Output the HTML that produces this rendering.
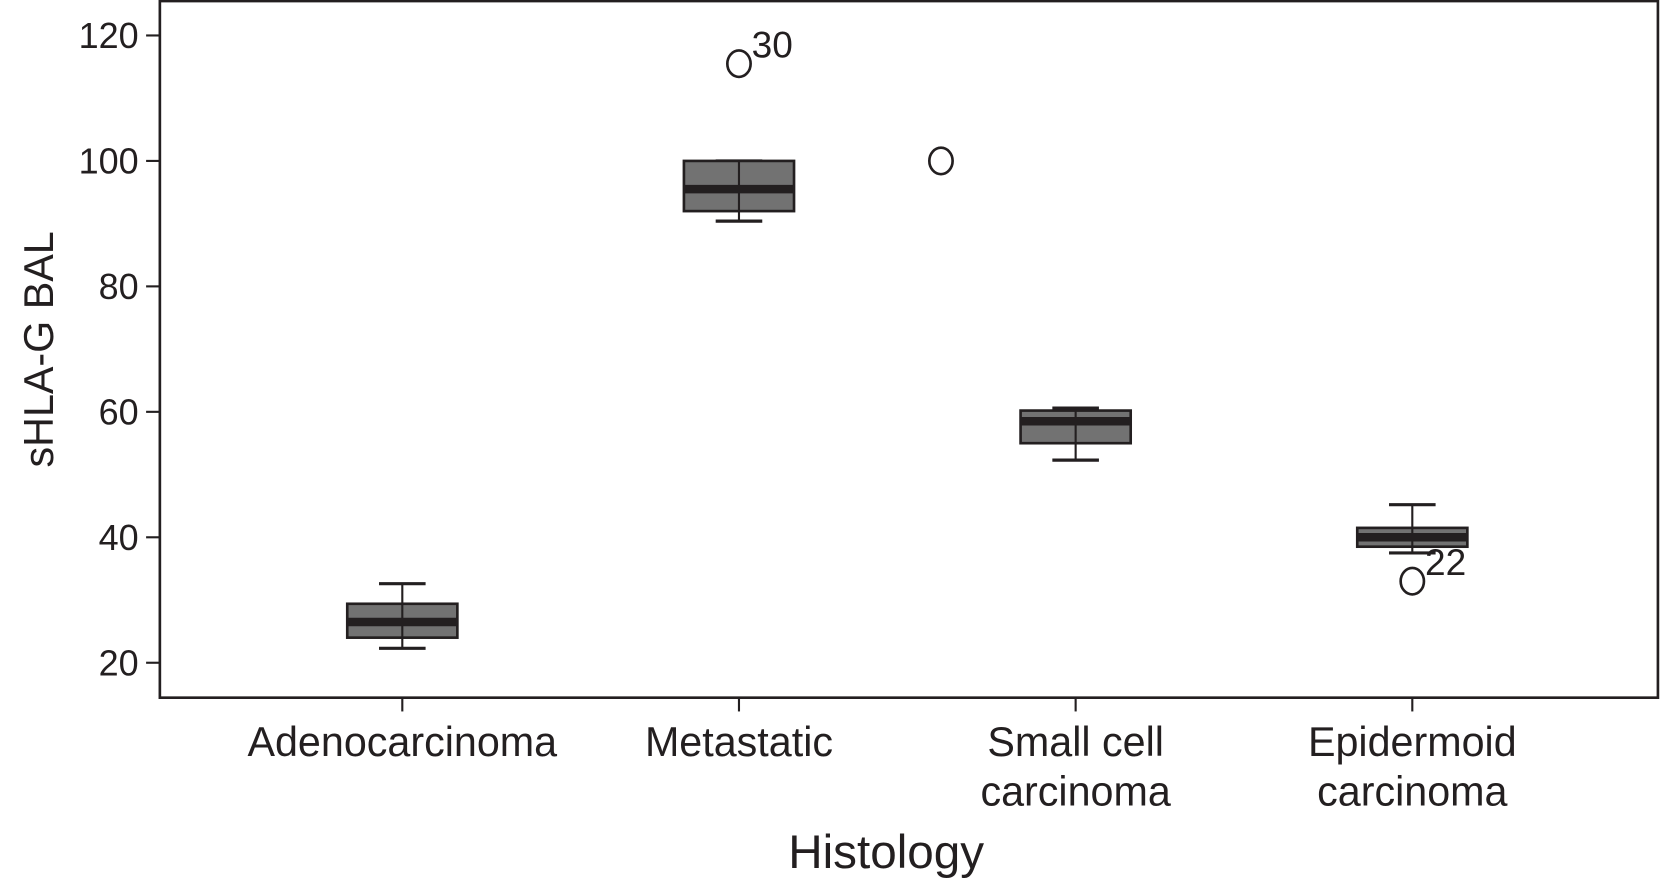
<!DOCTYPE html>
<html><head><meta charset="utf-8"><style>
html,body{margin:0;padding:0;background:#fff;}
svg{display:block;font-family:"Liberation Sans",Arial,sans-serif;}
</style></head><body>
<svg width="1660" height="881" viewBox="0 0 1660 881"><g id="chart" transform="scale(1.0587)"></g></svg>
<script>
const categories=["Adenocarcinoma","Metastatic","Small cell|carcinoma","Epidermoid|carcinoma"];
const whiskerLow=[22.3,90.4,52.3,37.5];
const q1=[24,92,55,38.5];
const medians=[26.5,95.5,58.5,40];
const q3=[29.4,100,60.2,41.5];
const whiskerHigh=[32.6,100,60.6,45.2];
const outlierCat=[1,1.6,3];
const outlierVal=[115.5,100,33];
const outlierLbl=["30","","22"];
const yTicks=[20,40,60,80,100,120];
const NS="http://www.w3.org/2000/svg";
const svg=document.getElementById('chart');
const L=151,R=1566,T=1,B=659;
const y=v=>626-(v-20)*5.925;
const x=i=>380+i*318;
function mk(tag,attrs,parent){const e=document.createElementNS(NS,tag);for(const k in attrs)e.setAttribute(k,attrs[k]);(parent||svg).appendChild(e);return e;}
const frame=mk('rect',{x:L,y:T,width:R-L,height:B-T,fill:'none',stroke:'#231f20','stroke-width':2.5});


yTicks.forEach(t=>{
 const g=mk('g',{});
 
 
 mk('line',{x1:L-13,x2:L,y1:y(t),y2:y(t),stroke:'#231f20','stroke-width':2},g);
 const tx=mk('text',{x:L-20,y:y(t)+12,'text-anchor':'end','font-size':34,fill:'#231f20'},g);tx.textContent=t;
});
categories.forEach((c,i)=>{
 const g=mk('g',{});
 
 
 mk('line',{x1:x(i),x2:x(i),y1:B,y2:B+13,stroke:'#231f20','stroke-width':2},g);
 c.split('|').forEach((s,j)=>{const tx=mk('text',{x:x(i),y:714+j*47,'text-anchor':'middle','font-size':39,fill:'#231f20'},g);tx.textContent=s;});
 const b=mk('g',{});
 
 
 const xc=x(i),hw=52,cw=22;
 mk('line',{x1:xc,x2:xc,y1:y(whiskerLow[i]),y2:y(whiskerHigh[i]),stroke:'#231f20','stroke-width':2},b);
 mk('line',{x1:xc-cw,x2:xc+cw,y1:y(whiskerLow[i]),y2:y(whiskerLow[i]),stroke:'#231f20','stroke-width':3},b);
 mk('line',{x1:xc-cw,x2:xc+cw,y1:y(whiskerHigh[i]),y2:y(whiskerHigh[i]),stroke:'#231f20','stroke-width':3},b);
 mk('rect',{x:xc-hw,y:y(q3[i]),width:2*hw,height:y(q1[i])-y(q3[i]),fill:'#727272',stroke:'#231f20','stroke-width':2.5},b);
 mk('line',{x1:xc,x2:xc,y1:y(q3[i]),y2:y(q1[i]),stroke:'#231f20','stroke-width':2},b);
 mk('line',{x1:xc-hw,x2:xc+hw,y1:y(medians[i]),y2:y(medians[i]),stroke:'#231f20','stroke-width':8},b);
});
outlierVal.forEach((v,k)=>{
 const g=mk('g',{});
 
 
 const xc=380+outlierCat[k]*318;
 mk('ellipse',{cx:xc,cy:y(v),rx:11,ry:12.5,fill:'none',stroke:'#231f20','stroke-width':2.5},g);
 if(outlierLbl[k]){const tx=mk('text',{x:xc+12,y:y(v)-6,'font-size':35,fill:'#231f20'},g);tx.textContent=outlierLbl[k];}
});
const yt=mk('text',{x:0,y:0,transform:'translate(50,330) rotate(-90)','text-anchor':'middle','font-size':39,fill:'#231f20'});
yt.textContent='sHLA-G BAL';


const xt=mk('text',{x:837,y:820,'text-anchor':'middle','font-size':45,fill:'#231f20'});
xt.textContent='Histology';


</script>
</body></html>
